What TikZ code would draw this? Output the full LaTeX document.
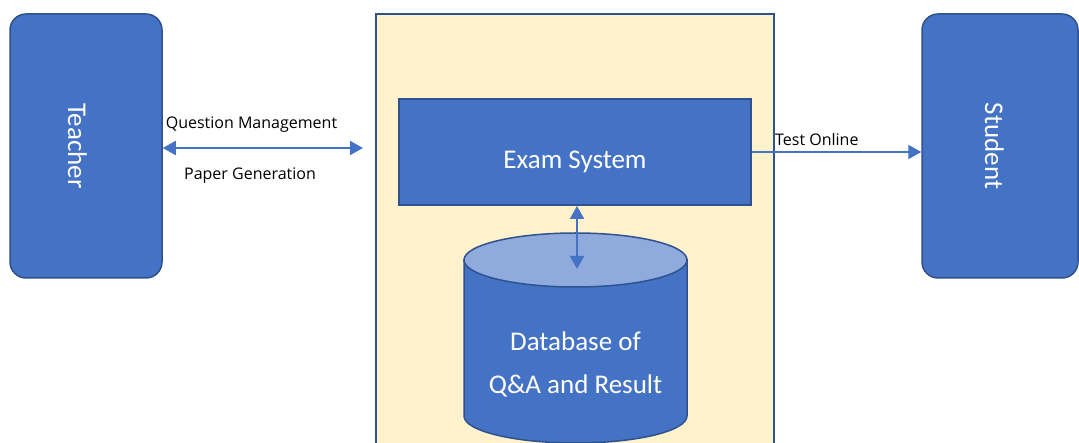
\documentclass[tikz,border=0pt]{standalone}
\usepackage{fontspec}
\setmainfont{Carlito}
\newfontfamily\labelfont{Open Sans}
\usetikzlibrary{arrows.meta}
\definecolor{boxblue}{HTML}{4472C4}
\definecolor{edgeblue}{HTML}{2F528F}
\definecolor{topblue}{HTML}{8FAADC}
\definecolor{paleyellow}{HTML}{FFF2CC}
\begin{document}
\begin{tikzpicture}[x=1pt,y=-1pt,
  >={Triangle[length=13pt,width=14pt]},
  actor/.style={draw=edgeblue,fill=boxblue,line width=1.5pt,rounded corners=16pt,minimum height=264pt,inner sep=0},
  whitetext/.style={text=white,font=\fontsize{27}{32}\selectfont,inner sep=0},
  blacktext/.style={text=black,font=\labelfont\fontsize{16}{19}\selectfont,inner sep=0},
  flow/.style={draw=boxblue,line width=2pt},
]
\useasboundingbox (0,0) rectangle (1079,443);
% container
\path[fill=paleyellow] (376,14) rectangle (774,450);
\draw[edgeblue,line width=1.5pt] (376,450) -- (376,14) -- (774,14) -- (774,450);
% actors
\node[actor,minimum width=152pt] (teacher) at (86,146) {};
\node[whitetext,rotate=-90,anchor=base] (teacherlabel) at (68,146) {Teacher};
\node[actor,minimum width=156pt] (student) at (1000,146) {};
\node[whitetext,rotate=-90,anchor=base] (studentlabel) at (985,146) {Student};
% exam system
\node[draw=edgeblue,fill=boxblue,line width=2pt,minimum width=352pt,minimum height=106pt,inner sep=0] (exam) at (575,152) {};
\node[whitetext,anchor=base] (examlabel) at (575,169) {Exam System};
% database cylinder
\path[fill=boxblue,draw=edgeblue,line width=1.5pt] (464,260) -- (464,416)
  arc[start angle=180,end angle=0,x radius=111.5,y radius=27] -- (687,260) -- cycle;
\path[fill=topblue,draw=edgeblue,line width=1.5pt] (575.5,260) ellipse [x radius=111.5,y radius=27];
\node[whitetext,anchor=base] (db1) at (575.5,351) {Database of};
\node[whitetext,anchor=base] (db2) at (575.5,394) {Q\&A and Result};
% connectors
\coordinate (qmend) at (363,148);
\draw[flow,<->] (teacher.east |- qmend) -- (qmend);
\draw[flow,->] (exam.east) -- (student.west |- exam.east);
\coordinate (dbtop) at (577,269);
\draw[flow,<->] (exam.south -| dbtop) -- (dbtop);
% labels
\node[blacktext,anchor=base] (qm) at (251.5,129) {Question Management};
\node[blacktext,anchor=base] (pg) at (250,180) {Paper Generation};
\node[blacktext,anchor=base west] (to) at (775,145.5) {Test Online};
\end{tikzpicture}
\end{document}
